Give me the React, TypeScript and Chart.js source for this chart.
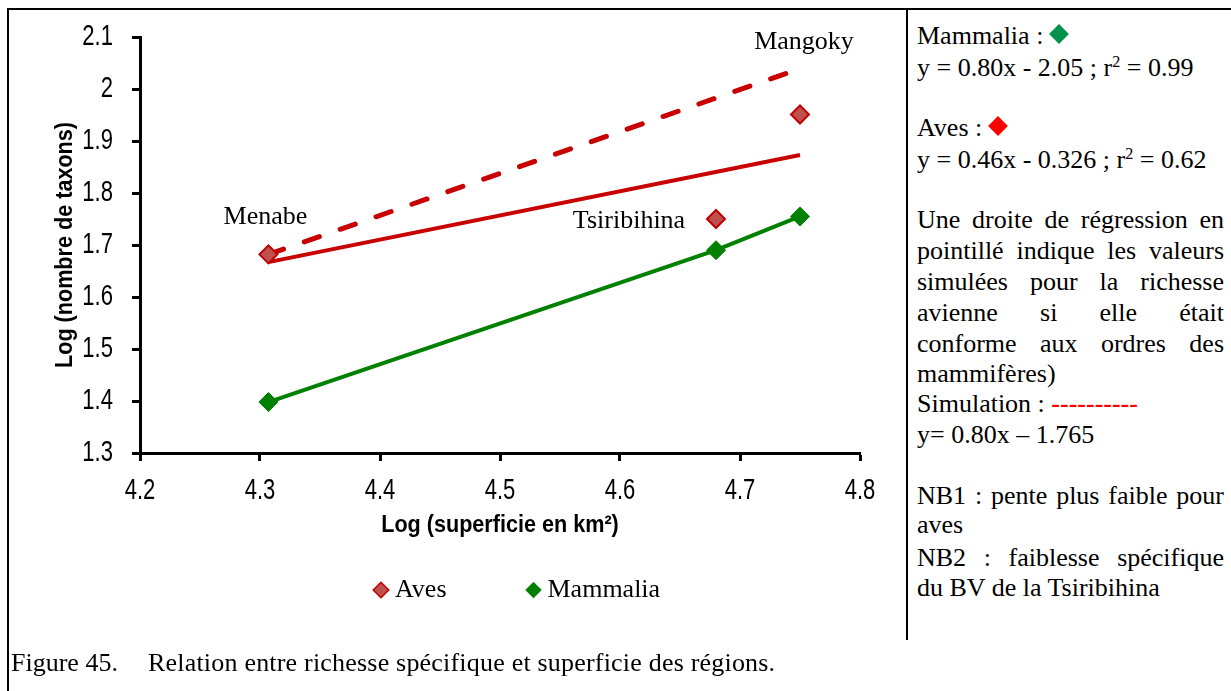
import React, { useEffect, useRef } from 'react';
import { Chart, registerables } from 'chart.js';

Chart.register(...registerables);

// ---------------- data ----------------
const regions = ['Menabe', 'Tsiribihina', 'Mangoky'];
const logSuperficie = [4.307, 4.68, 4.75];
const avesLogTaxons = [1.682, 1.75, 1.951];
const mammaliaLogTaxons = [1.398, 1.69, 1.755];
const avesFitX = [4.307, 4.75];
const avesFitY = [1.667, 1.873];
const simulationX = [4.307, 4.74];
const simulationY = [1.682, 2.031];
const xRange = [4.2, 4.8];
const yRange = [1.3, 2.1];
const tickStep = 0.1;
const seriesNames = ['Aves', 'Mammalia'];
const xTitle = 'Log (superficie en km²)';
const yTitle = 'Log (nombre de taxons)';

// ---------------- layout / style ----------------
const SERIF = '"Liberation Serif", "Times New Roman", Times, serif';
const SANS = '"Liberation Sans", Arial, sans-serif';
const TICK_CONDENSE = 0.76;
const TITLE_CONDENSE = 0.9;
const RED = '#C80000';
const GREEN = '#008000';
const regionLabelOffsets = [
  { dx: -3, dy: -37 },
  { dx: -87, dy: 2 },
  { dx: 4, dy: -72 },
];
const LEGEND_START_X = 380;
const LEGEND_CENTER_Y = 590;

const regionLabelPlugin = {
  id: 'regionLabels',
  afterDatasetsDraw(chart: any) {
    const { ctx, scales } = chart;
    ctx.save();
    ctx.font = `26px ${SERIF}`;
    ctx.fillStyle = '#000';
    ctx.textAlign = 'center';
    ctx.textBaseline = 'middle';
    regions.forEach((name, i) => {
      const px = scales.x.getPixelForValue(logSuperficie[i]) + regionLabelOffsets[i].dx;
      const py = scales.y.getPixelForValue(avesLogTaxons[i]) + regionLabelOffsets[i].dy;
      ctx.fillText(name, px, py);
    });
    ctx.restore();
  },
};

const legendPlacerPlugin = {
  id: 'legendPlacer',
  afterLayout(chart: any) {
    const lg = chart.legend;
    if (!lg || !lg.lineWidths) return;
    const pad = lg.options.labels.padding;
    const lw = lg.lineWidths[0];
    const curStart = (lg.left + pad + lg.right - lw) / 2;
    const dx = LEGEND_START_X - curStart;
    lg.left += dx;
    lg.right += dx;
    const fontSize = lg.options.labels.font.size;
    const itemH = Math.max(fontSize, lg.options.labels.boxHeight);
    const newTop = LEGEND_CENTER_Y - pad - itemH / 2;
    const h = lg.height;
    lg.top = newTop;
    lg.bottom = newTop + h;
  },
};

// Arial-Narrow look: condense sans-serif axis text horizontally around its anchor
function condenseSansText(ctx: CanvasRenderingContext2D) {
  const orig = ctx.fillText.bind(ctx);
  (ctx as any).fillText = (text: string, x: number, y: number, maxWidth?: number) => {
    const f = ctx.font;
    if (f.indexOf('Liberation Sans') >= 0) {
      const k = /bold|700/.test(f) ? TITLE_CONDENSE : TICK_CONDENSE;
      ctx.save();
      ctx.translate(x, y);
      ctx.scale(k, 1);
      if (maxWidth !== undefined) orig(text, 0, 0, maxWidth / k);
      else orig(text, 0, 0);
      ctx.restore();
    } else if (maxWidth !== undefined) {
      orig(text, x, y, maxWidth);
    } else {
      orig(text, x, y);
    }
  };
}

const fmt = (v: any) => String(Math.round(Number(v) * 10) / 10);

export default function App() {
  const ref = useRef<HTMLCanvasElement>(null);

  useEffect(() => {
    const canvas = ref.current!;
    const c2d = canvas.getContext('2d')!;
    condenseSansText(c2d);
    const chart = new Chart(canvas, {
      type: 'scatter',
      data: {
        datasets: [
          {
            label: seriesNames[0],
            data: logSuperficie.map((x, i) => ({ x, y: avesLogTaxons[i] })),
            pointStyle: 'rectRot',
            pointRadius: 9,
            pointHoverRadius: 9,
            backgroundColor: '#C0504D',
            borderColor: '#C00000',
            pointBorderWidth: 2,
            borderWidth: 2,
            showLine: false,
          },
          {
            label: seriesNames[1],
            data: logSuperficie.map((x, i) => ({ x, y: mammaliaLogTaxons[i] })),
            pointStyle: 'rectRot',
            pointRadius: 9.5,
            pointHoverRadius: 9.5,
            backgroundColor: GREEN,
            borderColor: GREEN,
            pointBorderWidth: 1,
            borderWidth: 4,
            showLine: true,
          },
          {
            label: 'fit',
            data: avesFitX.map((x, i) => ({ x, y: avesFitY[i] })),
            pointRadius: 0,
            borderColor: RED,
            backgroundColor: RED,
            borderWidth: 4,
            showLine: true,
          },
          {
            label: 'simulation',
            data: simulationX.map((x, i) => ({ x, y: simulationY[i] })),
            pointRadius: 0,
            borderColor: RED,
            backgroundColor: RED,
            borderWidth: 5,
            borderDash: [16, 22],
            borderCapStyle: 'round',
            showLine: true,
          },
        ],
      },
      options: {
        animation: false,
        responsive: false,
        events: [],
        layout: { padding: { top: 37, right: 47, bottom: 15, left: 0 } },
        plugins: {
          tooltip: { enabled: false },
          legend: {
            display: true,
            position: 'bottom',
            labels: {
              usePointStyle: true,
              boxWidth: 2,
              boxHeight: 11,
              padding: 86,
              color: '#000',
              font: { family: SERIF, size: 26 },
              generateLabels: (c: any) =>
                (Chart.defaults.plugins.legend.labels as any)
                  .generateLabels(c)
                  .filter((l: any) => l.datasetIndex < 2)
                  .map((l: any) => ({ ...l, lineWidth: l.datasetIndex === 0 ? 1.5 : 1 })),
            },
          },
        },
        scales: {
          x: {
            type: 'linear',
            min: xRange[0],
            max: xRange[1],
            ticks: {
              stepSize: tickStep,
              color: '#000',
              padding: 13,
              font: { family: SANS, size: 29 },
              callback: fmt,
            },
            grid: { display: true, drawOnChartArea: false, drawTicks: true, tickLength: 8, tickWidth: 3, tickColor: '#000' },
            border: { display: true, color: '#000', width: 3 },
            title: {
              display: true,
              text: xTitle,
              color: '#000',
              font: { family: SANS, size: 24, weight: 'bold' },
              padding: { top: 0, bottom: 3 },
            },
            afterFit: (s: any) => { s.height = 90; },
          },
          y: {
            type: 'linear',
            min: yRange[0],
            max: yRange[1],
            ticks: {
              stepSize: tickStep,
              color: '#000',
              padding: 19,
              font: { family: SANS, size: 29 },
              callback: fmt,
            },
            grid: { display: true, drawOnChartArea: false, drawTicks: true, tickLength: 8, tickWidth: 3, tickColor: '#000' },
            border: { display: true, color: '#000', width: 3 },
            title: {
              display: true,
              text: yTitle,
              color: '#000',
              font: { family: SANS, size: 24, weight: 'bold' },
              padding: { top: 51, bottom: 0 },
            },
            afterFit: (s: any) => { s.width = 140; },
          },
        },
      } as any,
      plugins: [regionLabelPlugin, legendPlacerPlugin],
    });
    return () => chart.destroy();
  }, []);

  const Diamond = ({ color }: { color: string }) => (
    <span
      style={{
        display: 'inline-block',
        width: 14,
        height: 14,
        background: color,
        transform: 'rotate(45deg)',
        marginLeft: 9,
        verticalAlign: '3px',
      }}
    />
  );
  const Sup = () => (
    <span style={{ fontSize: '0.62em', position: 'relative', top: '-0.55em' }}>2</span>
  );

  const panelLines: { base: number; justify?: boolean; content: any }[] = [
    { base: 45, content: <>Mammalia :<Diamond color="#00924A" /></> },
    { base: 77, content: <>y = 0.80x - 2.05 ; r<Sup /> = 0.99</> },
    { base: 137, content: <>Aves :<Diamond color="#FF0000" /></> },
    { base: 169, content: <>y = 0.46x - 0.326 ; r<Sup /> = 0.62</> },
    { base: 229, justify: true, content: 'Une droite de régression en' },
    { base: 260, justify: true, content: 'pointillé indique les valeurs' },
    { base: 291, justify: true, content: 'simulées pour la richesse' },
    { base: 322, justify: true, content: 'avienne si elle était' },
    { base: 353, justify: true, content: 'conforme aux ordres des' },
    { base: 383, content: 'mammifères)' },
    { base: 413, content: <>Simulation : <span style={{ color: '#FF0000', fontWeight: 'bold' }}>----------</span></> },
    { base: 444, content: 'y= 0.80x – 1.765' },
    { base: 505, justify: true, content: 'NB1 : pente plus faible pour' },
    { base: 534, content: 'aves' },
    { base: 567, justify: true, content: 'NB2 : faiblesse spécifique' },
    { base: 597, content: 'du BV de la Tsiribihina' },
  ];

  return (
    <div
      style={{
        position: 'absolute',
        left: 0,
        top: 0,
        width: 1231,
        height: 691,
        overflow: 'hidden',
        background: '#fff',
        fontFamily: SERIF,
        color: '#000',
      }}
    >
      <canvas
        ref={ref}
        width={907}
        height={680}
        style={{ position: 'absolute', left: 0, top: 0, width: 907, height: 680, display: 'block' }}
      />
      <div style={{ position: 'absolute', left: 7, top: 8, width: 1224, height: 2, background: '#000' }} />
      <div style={{ position: 'absolute', left: 7, top: 8, width: 2, height: 683, background: '#000' }} />
      <div style={{ position: 'absolute', left: 906, top: 8, width: 2, height: 632, background: '#000' }} />
      {panelLines.map((l, i) => (
        <div
          key={i}
          style={{
            position: 'absolute',
            left: 917,
            top: l.base - 24,
            width: 307,
            height: 30,
            fontSize: 26,
            lineHeight: '30px',
            whiteSpace: 'nowrap',
            textAlign: l.justify ? 'justify' : 'left',
            textAlignLast: l.justify ? 'justify' : 'left',
          } as any}
        >
          {l.content}
        </div>
      ))}
      <div style={{ position: 'absolute', left: 11, top: 672 - 24, fontSize: 26, lineHeight: '30px', whiteSpace: 'nowrap' }}>
        Figure 45.
      </div>
      <div
        style={{
          position: 'absolute',
          left: 148,
          top: 672 - 24,
          fontSize: 26,
          lineHeight: '30px',
          whiteSpace: 'nowrap',
          letterSpacing: '0.2px',
        }}
      >
        Relation entre richesse spécifique et superficie des régions.
      </div>
    </div>
  );
}
